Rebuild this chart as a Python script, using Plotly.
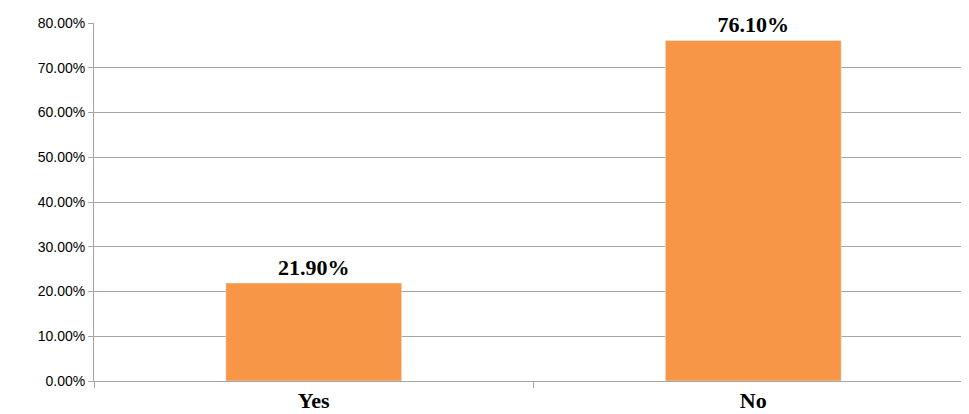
import plotly.graph_objects as go

categories = ["Yes", "No"]
values = [0.219, 0.761]
labels = ["21.90%", "76.10%"]

fig = go.Figure(go.Bar(
    x=categories, y=values, text=labels, textposition="outside",
    marker_color="#F79646", width=0.4, cliponaxis=False,
    textfont=dict(family="Liberation Serif", size=22, color="black", weight="bold"),
))
fig.update_layout(
    width=969, height=414, margin=dict(l=86, r=4, t=15, b=41, autoexpand=False),
    plot_bgcolor="white", paper_bgcolor="white", showlegend=False,
)
fig.update_yaxes(range=[0, 0.8], dtick=0.1, tickformat=".2%", showgrid=True, automargin=False,
                 gridcolor="#A6A6A6", showline=True, linecolor="#A6A6A6",
                 ticks="outside", tickcolor="#A6A6A6", ticklen=5,
                 tickfont=dict(family="Liberation Sans", size=14, color="black"))
fig.update_xaxes(showline=True, linecolor="#A6A6A6", ticks="outside", tickcolor="#A6A6A6",
                 ticklen=6, tickson="boundaries", automargin=False,
                 tickfont=dict(family="Liberation Serif", size=22, color="black", weight="bold"))
fig.write_html("out.html")
